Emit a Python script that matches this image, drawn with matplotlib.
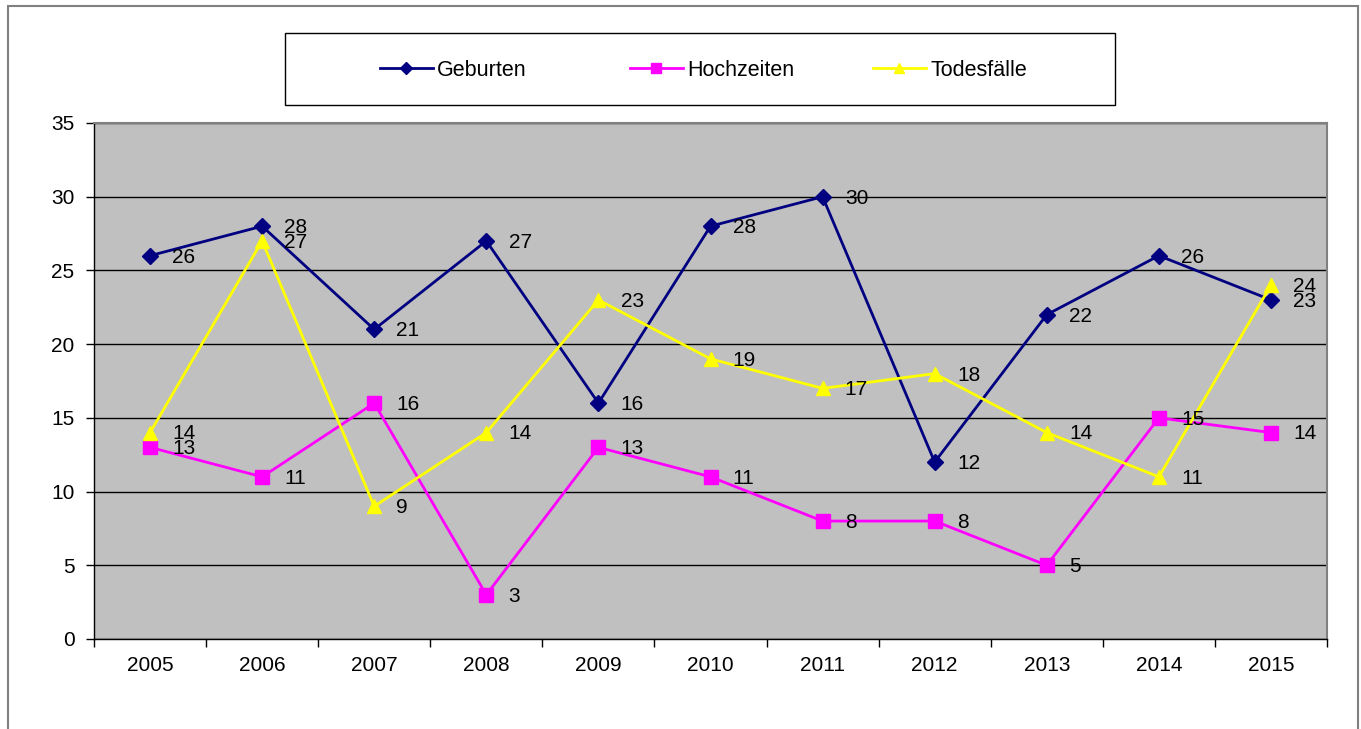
import matplotlib.pyplot as plt
from matplotlib.patches import Rectangle

plt.rcParams['font.family'] = ['Liberation Sans', 'DejaVu Sans']

## data
years = ['2005', '2006', '2007', '2008', '2009', '2010', '2011', '2012', '2013', '2014', '2015']
geburten = [26, 28, 21, 27, 16, 28, 30, 12, 22, 26, 23]
hochzeiten = [13, 11, 16, 3, 13, 11, 8, 8, 5, 15, 14]
todesfaelle = [14, 27, 9, 14, 23, 19, 17, 18, 14, 11, 24]

W, H = 1361, 729
fig = plt.figure(figsize=(W / 100, H / 100), dpi=100)
fig.patch.set_facecolor('white')

# outer chart border
fig.add_artist(Rectangle((8 / W, -0.01), (1358 - 8) / W, (H - 6) / H + 0.01,
                         transform=fig.transFigure, fill=False,
                         edgecolor='#808080', linewidth=1.5))

# plot area
left, right, top, bottom = 94, 1327, 123, 639
ax = fig.add_axes([left / W, 1 - bottom / H, (right - left) / W, (bottom - top) / H])
ax.set_facecolor('#C0C0C0')

x = list(range(len(years)))
series = [
    (geburten, 'Geburten', '#000080', 'D', 8.5),
    (hochzeiten, 'Hochzeiten', '#FF00FF', 's', 10),
    (todesfaelle, 'Todesfälle', '#FFFF00', '^', 10),
]
lines = []
for vals, name, col, mk, ms in series:
    ln, = ax.plot(x, vals, color=col, marker=mk, markersize=ms, linewidth=2,
                  label=name, zorder=3, clip_on=False)
    lines.append(ln)
    for xi, v in zip(x, vals):
        ax.annotate(str(v), (xi, v), xytext=(16, -1), textcoords='offset points',
                    ha='left', va='center', fontsize=15, color='black', zorder=4)

ax.set_xlim(-0.5, len(years) - 0.5)
ax.set_ylim(0, 35)
ax.set_yticks(range(0, 36, 5))
ax.set_xticks(x)
ax.set_xticklabels(years)
ax.set_xticks([i - 0.5 for i in range(len(years) + 1)], minor=True)
ax.tick_params(axis='x', which='major', length=0, pad=12, labelsize=15)
ax.tick_params(axis='x', which='minor', length=6, width=1, color='black')
ax.tick_params(axis='y', length=6, width=1, color='black', labelsize=15, pad=8)
ax.grid(axis='y', color='black', linewidth=1)
ax.set_axisbelow(True)

for s in ['top', 'right']:
    ax.spines[s].set_color('#808080')
    ax.spines[s].set_linewidth(1.5)
for s in ['left', 'bottom']:
    ax.spines[s].set_color('black')
    ax.spines[s].set_linewidth(1)

# legend box at the top, one entry per slot
leg_x = [380, 630, 873]
for ln, lx in zip(lines, leg_x):
    lg = fig.legend([ln], [ln.get_label()], loc='center left',
                    bbox_to_anchor=(lx / W, 1 - 70 / H), frameon=False,
                    fontsize=15.5, handlelength=2.45, handletextpad=0.2,
                    markerscale=0.75, borderpad=0, borderaxespad=0)

fig.add_artist(Rectangle((285 / W, 1 - 105 / H), (1115 - 285) / W, (105 - 33) / H,
                         transform=fig.transFigure, fill=False,
                         edgecolor='black', linewidth=1))

fig.savefig('out.png', dpi=100)
